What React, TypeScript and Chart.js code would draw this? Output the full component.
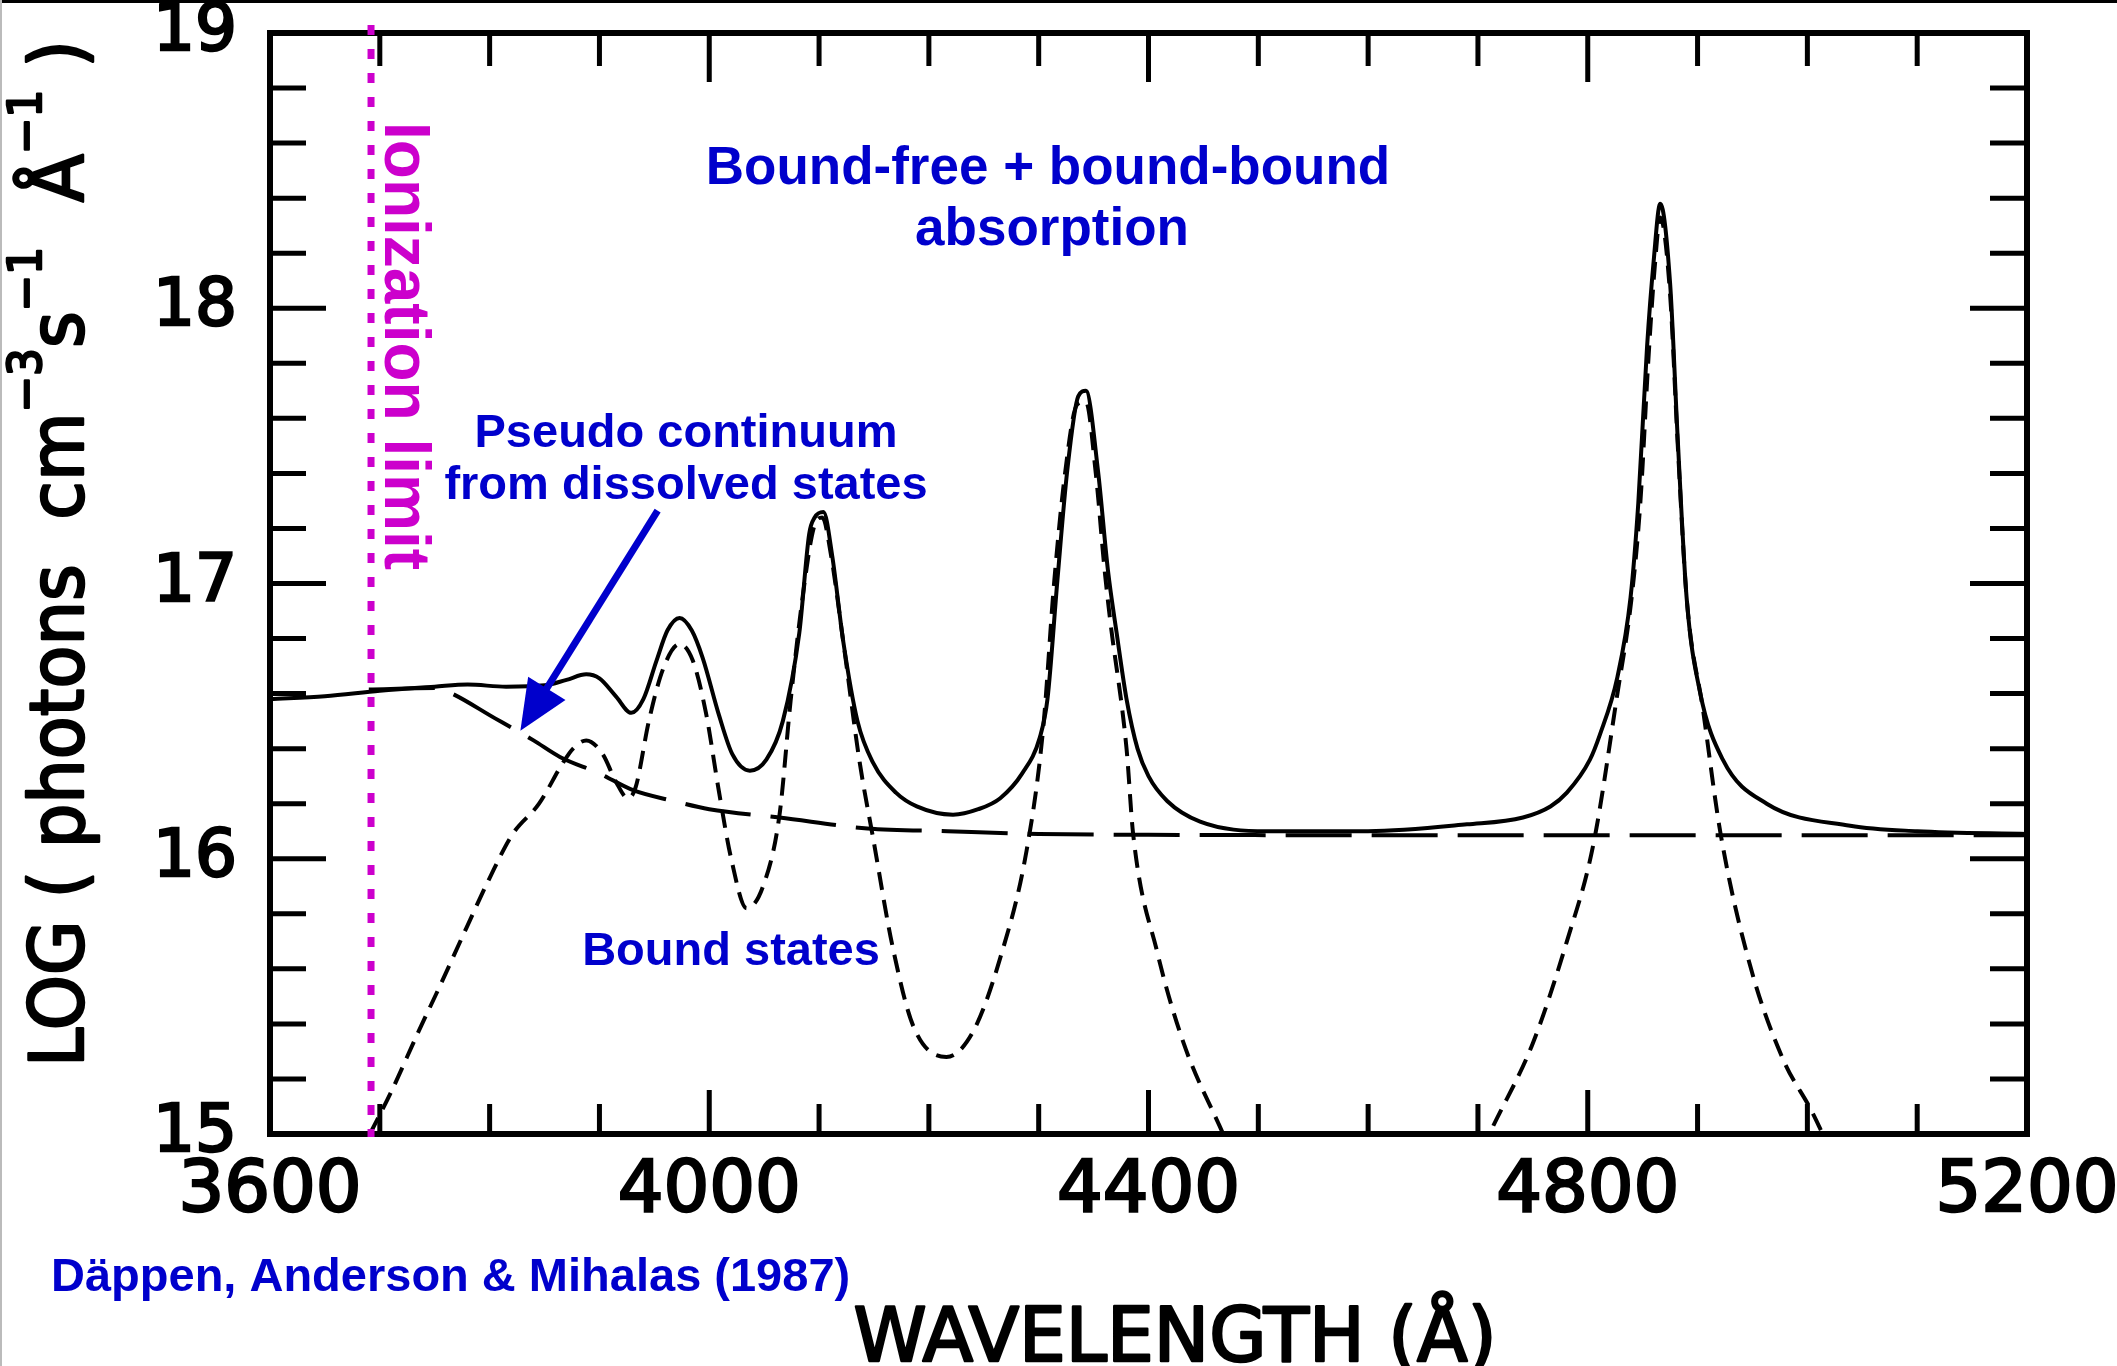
import React, { useEffect, useRef } from "react";
import { Chart, registerables } from "chart.js";

Chart.register(...registerables);

// ---- Data (wavelength in Å, log photons cm^-3 s^-1 Å^-1) ----
const totalWavelength = [
  3600, 3650, 3700, 3750, 3780, 3815, 3850, 3870, 3888, 3900, 3915, 3929, 3940,
  3952, 3962, 3973, 3984, 3994, 4009, 4021, 4037, 4052, 4067, 4082, 4091, 4096,
  4104, 4112, 4122, 4135, 4149, 4170, 4189, 4222, 4245, 4265, 4285, 4301, 4308,
  4317, 4326, 4336, 4343, 4354, 4363, 4371, 4380, 4390, 4400, 4417, 4447, 4508,
  4600, 4690, 4741, 4766, 4781, 4802, 4811, 4827, 4839, 4846, 4854, 4860, 4866,
  4875, 4882, 4890, 4902, 4923, 4963, 5039, 5100, 5200,
];
const totalLog = [
  16.58, 16.59, 16.61, 16.625, 16.633, 16.625, 16.63, 16.65, 16.67, 16.655, 16.59, 16.53, 16.58,
  16.72, 16.83, 16.875, 16.83, 16.73, 16.52, 16.38, 16.32, 16.36, 16.5, 16.82, 17.18, 17.24,
  17.26, 17.1, 16.79, 16.5, 16.35, 16.24, 16.19, 16.16, 16.18, 16.22, 16.31, 16.44, 16.58,
  17.01, 17.41, 17.68, 17.7, 17.41, 17.05, 16.82, 16.58, 16.4, 16.3, 16.21, 16.135, 16.1,
  16.1, 16.125, 16.15, 16.19, 16.24, 16.36, 16.45, 16.66, 16.95, 17.29, 17.86, 18.17, 18.38,
  18.09, 17.52, 16.95, 16.61, 16.36, 16.2, 16.12, 16.1, 16.09,
];

const pseudoWavelength = [
  3690, 3750, 3760, 3805, 3840, 3864, 3900, 3930, 3967, 4000, 4064, 4144, 4217,
  4300, 4400, 4800, 5200,
];
const pseudoLog = [
  16.615, 16.62, 16.61, 16.51, 16.43, 16.37, 16.31, 16.25, 16.21, 16.18, 16.15, 16.11, 16.1,
  16.09, 16.087, 16.085, 16.085,
];

const boundWavelength = [
  3691, 3710, 3735, 3755, 3779, 3800, 3821, 3845, 3867, 3876, 3888, 3903, 3915, 3926,
  3933, 3945, 3958, 3973, 3985, 3997, 4009, 4020, 4034, 4049, 4064, 4074, 4085, 4095,
  4103, 4111, 4122, 4137, 4149, 4167, 4186, 4216, 4240, 4265, 4289, 4304, 4314, 4324,
  4335, 4343, 4352, 4360, 4365, 4380, 4386, 4408, 4432, 4468, 4590, 4714, 4750, 4781,
  4805, 4827, 4840, 4848, 4855, 4861, 4866, 4875, 4882, 4890, 4905, 4921, 4948, 4978,
  5003, 5014,
];
const boundLog = [
  15.0, 15.15, 15.37, 15.54, 15.75, 15.93, 16.09, 16.2, 16.35, 16.4, 16.43, 16.38, 16.28, 16.22,
  16.26, 16.5, 16.69, 16.78, 16.72, 16.53, 16.24, 16.0, 15.82, 15.9, 16.16, 16.57, 16.95, 17.2,
  17.24, 17.1, 16.79, 16.35, 16.08, 15.68, 15.39, 15.28, 15.37, 15.64, 16.03, 16.47, 17.0, 17.4,
  17.65, 17.66, 17.4, 17.05, 16.87, 16.4, 16.09, 15.66, 15.33, 15.0, null, 15.03, 15.33, 15.7,
  16.05, 16.6, 16.95, 17.3, 17.8, 18.15, 18.33, 18.05, 17.5, 16.95, 16.54, 16.09, 15.61, 15.27,
  15.09, 15.0,
];

const xTickLabels = [3600, 4000, 4400, 4800, 5200];
const yTickLabels = [15, 16, 17, 18, 19];

const ionizationLimit = 3692;
const arrowStart = { x: 3953, y: 17.265 };
const arrowTip = { x: 3828, y: 16.465 };

const BLUE = "#0000cc";
const MAGENTA = "#cc00cc";

const toPoints = (xs: number[], ys: (number | null)[]) =>
  xs.map((x, i) => ({ x, y: ys[i] }));

const framePlugin = {
  id: "frameTicks",
  afterDatasetsDraw(chart: any) {
    const { ctx, chartArea } = chart;
    const xs = chart.scales.x;
    const ys = chart.scales.y;
    const { left, right, top, bottom } = chartArea;
    ctx.save();
    ctx.strokeStyle = "#000";
    ctx.lineCap = "butt";
    ctx.lineWidth = 5;
    for (let w = 3700; w < 5200; w += 100) {
      const px = xs.getPixelForValue(w);
      const major = w % 400 === 0;
      ctx.beginPath();
      ctx.moveTo(px, bottom);
      ctx.lineTo(px, bottom - (major ? 44 : 30));
      ctx.moveTo(px, top);
      ctx.lineTo(px, top + (major ? 49 : 33));
      ctx.stroke();
    }
    for (let k = 1; k < 20; k++) {
      const v = 15 + k * 0.2;
      const py = ys.getPixelForValue(v);
      const major = k % 5 === 0;
      ctx.beginPath();
      ctx.moveTo(left, py);
      ctx.lineTo(left + (major ? 56 : 36), py);
      ctx.moveTo(right, py);
      ctx.lineTo(right - (major ? 57 : 37), py);
      ctx.stroke();
    }
    ctx.lineWidth = 6;
    ctx.lineJoin = "miter";
    ctx.strokeRect(left, top, right - left, bottom - top);
    ctx.restore();
  },
};

const annotationPlugin = {
  id: "annotations",
  afterDraw(chart: any) {
    const { ctx, chartArea } = chart;
    const xs = chart.scales.x;
    const ys = chart.scales.y;
    ctx.save();

    // border lines of the scanned figure
    ctx.fillStyle = "#000";
    ctx.fillRect(0, 0, chart.width, 3);
    ctx.fillStyle = "#bbb";
    ctx.fillRect(0, 0, 2, chart.height);

    // ionization limit dotted line
    const ix = xs.getPixelForValue(ionizationLimit);
    ctx.strokeStyle = MAGENTA;
    ctx.lineWidth = 7;
    ctx.setLineDash([10, 14]);
    ctx.beginPath();
    ctx.moveTo(ix, chartArea.top - 8);
    ctx.lineTo(ix, chartArea.bottom + 3);
    ctx.stroke();
    ctx.setLineDash([]);

    // Ionization limit text (rotated clockwise)
    ctx.save();
    ctx.translate(385, 122);
    ctx.rotate(Math.PI / 2);
    ctx.fillStyle = MAGENTA;
    ctx.font = 'bold 64px "Liberation Sans", Arial, sans-serif';
    ctx.textAlign = "left";
    ctx.textBaseline = "alphabetic";
    ctx.fillText("Ionization limit", 0, 0);
    ctx.restore();

    // blue annotations
    ctx.fillStyle = BLUE;
    ctx.textBaseline = "alphabetic";
    ctx.textAlign = "center";
    ctx.font = 'bold 53px "Liberation Sans", Arial, sans-serif';
    ctx.fillText("Bound-free + bound-bound", 1048, 184);
    ctx.fillText("absorption", 1052, 245);
    ctx.font = 'bold 47px "Liberation Sans", Arial, sans-serif';
    ctx.fillText("Pseudo continuum", 686, 447);
    ctx.fillText("from dissolved states", 686, 499);
    ctx.font = 'bold 47px "Liberation Sans", Arial, sans-serif';
    ctx.fillText("Bound states", 731, 965);
    ctx.textAlign = "left";
    ctx.font = 'bold 47px "Liberation Sans", Arial, sans-serif';
    ctx.fillText("Däppen, Anderson & Mihalas (1987)", 51, 1291);

    // arrow
    const sx = xs.getPixelForValue(arrowStart.x);
    const sy = ys.getPixelForValue(arrowStart.y);
    const tx = xs.getPixelForValue(arrowTip.x);
    const ty = ys.getPixelForValue(arrowTip.y);
    const len = Math.hypot(tx - sx, ty - sy);
    const ux = (tx - sx) / len;
    const uy = (ty - sy) / len;
    const headLen = 50;
    const headHalf = 22;
    const bx = tx - headLen * ux;
    const by = ty - headLen * uy;
    ctx.strokeStyle = BLUE;
    ctx.lineWidth = 7;
    ctx.beginPath();
    ctx.moveTo(sx, sy);
    ctx.lineTo(bx + ux * 4, by + uy * 4);
    ctx.stroke();
    ctx.beginPath();
    ctx.moveTo(tx, ty);
    ctx.lineTo(bx - uy * headHalf, by + ux * headHalf);
    ctx.lineTo(bx + uy * headHalf, by - ux * headHalf);
    ctx.closePath();
    ctx.fill();

    // axis titles (slightly heavier strokes like the scanned lettering)
    ctx.fillStyle = "#000";
    ctx.strokeStyle = "#000";
    ctx.lineWidth = 2.5;
    ctx.lineJoin = "round";
    ctx.textAlign = "center";
    ctx.font = '74px "DejaVu Sans", sans-serif';
    ctx.fillText("WAVELENGTH (Å)", 1175, 1361);
    ctx.strokeText("WAVELENGTH (Å)", 1175, 1361);

    const F = 74;
    const S = 46;
    const parts = [
      { t: "LOG ( photons  cm", sup: false },
      { t: "−3", sup: true },
      { t: "s", sup: false },
      { t: "−1", sup: true },
      { t: "  Å", sup: false },
      { t: "−1", sup: true },
      { t: " )", sup: false },
    ];
    let total = 0;
    for (const p of parts) {
      ctx.font = `${p.sup ? S : F}px "DejaVu Sans", sans-serif`;
      total += ctx.measureText(p.t).width;
    }
    const target = 1027;
    ctx.save();
    ctx.translate(83, 1067);
    ctx.rotate(-Math.PI / 2);
    ctx.scale(target / total, 1);
    ctx.textAlign = "left";
    let cx = 0;
    for (const p of parts) {
      ctx.font = `${p.sup ? S : F}px "DejaVu Sans", sans-serif`;
      const yy = p.sup ? -42 : 0;
      ctx.fillText(p.t, cx, yy);
      ctx.strokeText(p.t, cx, yy);
      cx += ctx.measureText(p.t).width;
    }
    ctx.restore();

    ctx.restore();
  },
};

export default function App() {
  const canvasRef = useRef<HTMLCanvasElement | null>(null);

  useEffect(() => {
    document.body.style.margin = "0";
    document.body.style.overflow = "hidden";
    document.body.style.background = "#fff";
    const canvas = canvasRef.current;
    if (!canvas) return;
    const chart = new Chart(canvas, {
      type: "line",
      data: {
        datasets: [
          {
            label: "Bound-free + bound-bound absorption",
            data: toPoints(totalWavelength, totalLog),
            borderColor: "#000",
            borderWidth: 4,
            pointRadius: 0,
            fill: false,
            cubicInterpolationMode: "monotone",
          },
          {
            label: "Pseudo continuum from dissolved states",
            data: toPoints(pseudoWavelength, pseudoLog),
            borderColor: "#000",
            borderWidth: 4,
            borderDash: [66, 20],
            pointRadius: 0,
            fill: false,
            cubicInterpolationMode: "monotone",
          },
          {
            label: "Bound states",
            data: toPoints(boundWavelength, boundLog),
            borderColor: "#000",
            borderWidth: 4,
            borderDash: [18, 10],
            pointRadius: 0,
            fill: false,
            spanGaps: false,
            cubicInterpolationMode: "monotone",
          },
        ],
      },
      options: {
        responsive: false,
        animation: false,
        devicePixelRatio: 1,
        layout: { padding: { top: 33, right: 90, left: 0, bottom: 0 } },
        plugins: {
          legend: { display: false },
          tooltip: { enabled: false },
          title: { display: false },
        },
        scales: {
          x: {
            type: "linear",
            position: "bottom",
            min: 3600,
            max: 5200,
            grid: { display: false, drawTicks: false },
            border: { display: false },
            ticks: {
              stepSize: 400,
              autoSkip: false,
              maxRotation: 0,
              padding: 15,
              color: "#000",
              textStrokeColor: "#000",
              textStrokeWidth: 2.5,
              font: { family: "DejaVu Sans", size: 72 },
              callback: (v: any) =>
                xTickLabels.includes(Number(v)) ? String(v) : "",
            },
            afterFit: (s: any) => {
              s.height = 232;
              s.paddingLeft = 0;
              s.paddingRight = 0;
            },
          },
          y: {
            type: "linear",
            min: 15,
            max: 19,
            grid: { display: false, drawTicks: false },
            border: { display: false },
            ticks: {
              stepSize: 1,
              autoSkip: false,
              padding: 33,
              color: "#000",
              textStrokeColor: "#000",
              textStrokeWidth: 2.5,
              font: { family: "DejaVu Sans", size: 66 },
              callback: (v: any) =>
                yTickLabels.includes(Number(v)) ? String(v) : "",
            },
            afterFit: (s: any) => {
              s.width = 270;
              s.paddingTop = 0;
              s.paddingBottom = 0;
            },
          },
        },
      },
      plugins: [framePlugin, annotationPlugin],
    } as any);
    return () => chart.destroy();
  }, []);

  return (
    <div style={{ width: 2117, height: 1366, overflow: "hidden", background: "#fff" }}>
      <canvas
        ref={canvasRef}
        width={2117}
        height={1366}
        style={{ display: "block", width: 2117, height: 1366 }}
      />
    </div>
  );
}
